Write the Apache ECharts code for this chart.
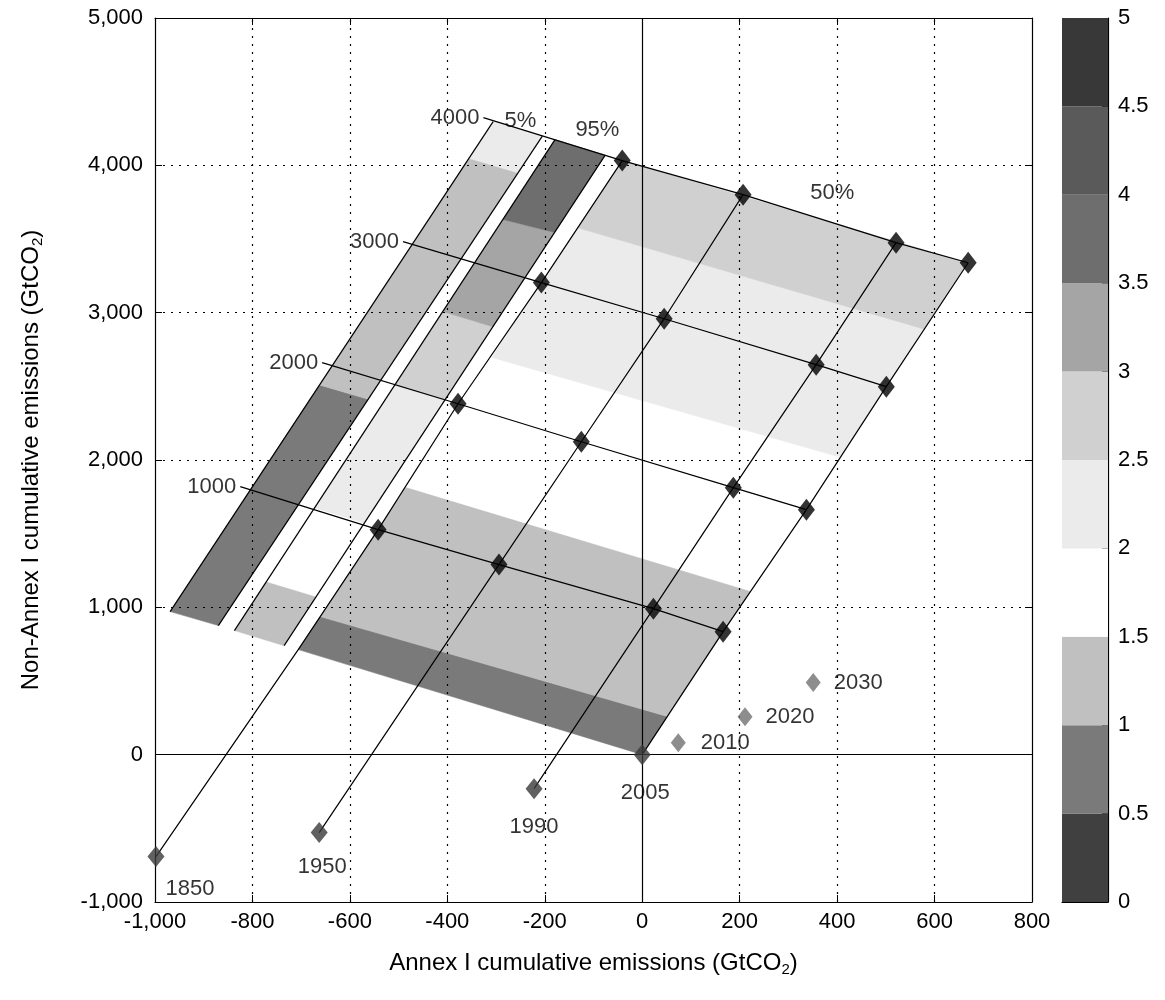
<!DOCTYPE html>
<html>
<head>
<meta charset="utf-8">
<script src="https://cdn.jsdelivr.net/npm/echarts@6/dist/echarts.min.js"></script>
<style>html,body{margin:0;background:#fff}#main{width:1165px;height:1000px}</style>
</head>
<body>
<div id="main"></div>
<script>
// colour classes of the colour bar (0-0.5, 0.5-1, ... 4.5-5)
var classColors = ['#404040','#7a7a7a','#c0c0c0','#ffffff','#ebebeb','#d0d0d0','#a5a5a5','#6e6e6e','#5a5a5a','#383838'];
var colorTicks = [0,0.5,1,1.5,2,2.5,3,3.5,4,4.5,5];

// strip edges: [bottomX, bottomY, topX, topY] (row level 0 -> 4)
var edge5L = [-969, 971, -306, 4297];
var edge5R = [-870, 876, -205, 4198];
var edge95L = [-837, 842, -179, 4174];
var edge95R = [-735, 740, -76, 4069];
var edge50L = [-706, 713, -41, 4032];
var edge50R = [0, 0, 669, 3339];

// band boundaries (row level on left edge, right edge) and colour classes
var bounds5 = [[0,0],[1.85,1.85],[3.7,3.7],[4,4]];
var class5 = [1,2,4];
var bounds95 = [[0,0],[0.4,0.4],[1,1],[2,2],[2.6,2.6],[3.35,3.37],[4,4]];
var class95 = [2,3,4,5,6,7];
var bounds50 = [[0,0],[0.27,0.31],[1.33,1.33],[2.39,2.42],[3.45,3.46],[4,4]];
var class50 = [1,2,3,4,5];

// grid points (diamonds), rows 1000..4000, columns 1850,1950,1990,2005
var rowLabels = ['1000','2000','3000','4000'];
var rowStart = [[-825,1819],[-657,2661],[-491,3482],[-326,4324]];
var col1850 = [[-542,1527],[-378,2382],[-207,3204],[-41,4032]];
var col1950 = [[-294,1290],[-125,2124],[45,2959],[207,3801]];
var col1990 = [[23,991],[187,1812],[357,2647],[521,3475]];
var col2005 = [[166,835],[337,1663],[501,2498],[669,3339]];

// year points
var years = ['1850','1950','1990','2005','2010','2020','2030'];
var yearX = [-998,-663,-222,0,74,211,351];
var yearY = [-692,-529,-231,0,81,258,489];

var pctLabels = ['5%','95%','50%'];
var pctPos = [[-250,4300],[-92,4240],[390,3815]];

function pt(e, t) {
    return [e[0] + (e[2]-e[0])*t/4, e[1] + (e[3]-e[1])*t/4];
}
var polys = [];
function addRegion(eL, eR, bounds, cls) {
    for (var i = 0; i < cls.length; i++) {
        polys.push({pts:[pt(eL,bounds[i][0]), pt(eL,bounds[i+1][0]), pt(eR,bounds[i+1][1]), pt(eR,bounds[i][1])], c: classColors[cls[i]]});
    }
}
addRegion(edge5L, edge5R, bounds5, class5);
addRegion(edge95L, edge95R, bounds95, class95);
addRegion(edge50L, edge50R, bounds50, class50);

var font = 'Liberation Sans';
var txt = {color:'#000', fontSize:22, fontFamily:font};
var lineStyle = {color:'#000', width:1.2};
function lineSeries(data) {
    return {type:'line', data:data, symbol:'none', lineStyle:lineStyle, z:5, silent:true};
}

var series = [];
// shaded polygons
series.push({
    type:'custom', z:1, silent:true,
    data: polys.map(function (p, i) { return [i]; }),
    renderItem: function (params, api) {
        var p = polys[params.dataIndex];
        return {type:'polygon', shape:{points:p.pts.map(function (q) { return api.coord(q); })},
            style:{fill:p.c, stroke:p.c, lineWidth:0.5}};
    }
});
// dotted grid over the shading, plus the zero lines
var gx = [-800,-600,-400,-200,200,400,600], gy = [1000,2000,3000,4000];
var mk = [];
gx.forEach(function (v) { mk.push({xAxis:v, lineStyle:{type:[2,6], color:'#000', width:1.2}}); });
gy.forEach(function (v) { mk.push({yAxis:v, lineStyle:{type:[2,6], color:'#000', width:1.2}}); });
mk.push({xAxis:0, lineStyle:{type:'solid', color:'#000', width:1.2}});
mk.push({yAxis:0, lineStyle:{type:'solid', color:'#000', width:1.2}});
series.push({type:'line', data:[], z:3, markLine:{silent:true, symbol:'none', label:{show:false}, data:mk}});

// row lines
for (var r = 0; r < 4; r++) {
    series.push(lineSeries([rowStart[r], col1850[r], col1950[r], col1990[r], col2005[r]]));
}
// column lines
series.push(lineSeries([[yearX[0],yearY[0]], [edge50L[0],edge50L[1]]].concat(col1850)));
series.push(lineSeries([[yearX[1],yearY[1]]].concat(col1950)));
series.push(lineSeries([[yearX[2],yearY[2]]].concat(col1990)));
series.push(lineSeries([[yearX[3],yearY[3]]].concat(col2005)));
[edge5L, edge5R, edge95L, edge95R].forEach(function (e) {
    series.push(lineSeries([[e[0],e[1]],[e[2],e[3]]]));
});

// diamonds
series.push({type:'scatter', z:8, symbol:'diamond', symbolSize:[17,22], itemStyle:{color:'#000'},
    data: col1850.concat(col1950, col1990, col2005)});
// year points
var yLabelPos = [['bottom',[34,6]],['bottom',[3,8]],['bottom',[0,12]],['bottom',[3,12]],['right',[10,0]],['right',[8,0]],['right',[8,0]]];
series.push({type:'scatter', z:8, symbol:'diamond',
    data: years.map(function (y, i) {
        var late = i > 3;
        return {value:[yearX[i], yearY[i]], name:y,
            symbolSize: late ? [15,19] : [17,21],
            itemStyle:{color: late ? '#707070' : '#3a3a3a'},
            label:{show:true, position:yLabelPos[i][0], offset:yLabelPos[i][1], formatter:y}};
    }),
    label: txt
});
// row labels
series.push({type:'scatter', z:8, symbolSize:0,
    data: rowStart.map(function (p, i) { return {value:p, label:{formatter:rowLabels[i]}}; }),
    label: Object.assign({show:true, position:'left', distance:4}, txt)});
// percentile labels
series.push({type:'scatter', z:8, symbolSize:0,
    data: pctPos.map(function (p, i) { return {value:p, label:{formatter:pctLabels[i]}}; }),
    label: Object.assign({show:true, position:'inside'}, txt)});

// colour bar
classColors.forEach(function (c) {
    series.push({type:'bar', xAxisIndex:2, yAxisIndex:2, stack:'cb', data:[0.5], barWidth:'100%',
        itemStyle:{color:c}, silent:true});
});

var option = {
    animation:false,
    backgroundColor:'#fff',
    grid:[
        {left:155, right:133, top:18, bottom:98},
        {left:155, right:133, top:18, bottom:98},
        {left:1062, width:46, top:18, bottom:98}
    ],
    xAxis:[
        {type:'value', gridIndex:0, min:-1000, max:800, interval:200,
            name:'Annex I cumulative emissions (GtCO{s|2})', nameLocation:'middle', nameGap:48,
            nameTextStyle:{color:'#000', fontSize:24, fontFamily:font, rich:{s:{fontSize:15, padding:[12,0,0,0], fontFamily:font}}},
            axisLine:{onZero:false, lineStyle:{color:'#000', width:1.2}},
            axisTick:{inside:true, length:7, lineStyle:{color:'#000'}},
            axisLabel:Object.assign({margin:9}, txt), splitLine:{show:false}},
        {type:'value', gridIndex:1, position:'top', min:-1000, max:800, interval:200,
            axisLine:{onZero:false, lineStyle:{color:'#000', width:1.2}},
            axisTick:{inside:true, length:7, lineStyle:{color:'#000'}},
            axisLabel:{show:false}, splitLine:{show:false}},
        {type:'category', gridIndex:2, data:['c'],
            axisLine:{lineStyle:{color:'#000', width:1.2}}, axisTick:{show:false}, axisLabel:{show:false}}
    ],
    yAxis:[
        {type:'value', gridIndex:0, min:-1000, max:5000, interval:1000,
            name:'Non-Annex I cumulative emissions (GtCO{s|2})', nameLocation:'middle', nameGap:110, nameRotate:90,
            nameTextStyle:{color:'#000', fontSize:24, fontFamily:font, rich:{s:{fontSize:15, padding:[12,0,0,0], fontFamily:font}}},
            axisLine:{show:true, onZero:false, lineStyle:{color:'#000', width:1.2}},
            axisTick:{show:true, inside:true, length:7, lineStyle:{color:'#000'}},
            axisLabel:Object.assign({margin:12}, txt), splitLine:{show:false}},
        {type:'value', gridIndex:1, position:'right', min:-1000, max:5000, interval:1000,
            axisLine:{show:true, onZero:false, lineStyle:{color:'#000', width:1.2}},
            axisTick:{show:true, inside:true, length:7, lineStyle:{color:'#000'}},
            axisLabel:{show:false}, splitLine:{show:false}},
        {type:'value', gridIndex:2, position:'right', min:0, max:5, interval:0.5,
            axisLine:{show:true, lineStyle:{color:'#000', width:1.2}},
            axisTick:{show:true, inside:true, length:6, lineStyle:{color:'#000'}},
            axisLabel:Object.assign({margin:10, formatter:function (v) { return String(v); }}, txt),
            splitLine:{show:false}}
    ],
    series:series
};
var chart = echarts.init(document.getElementById('main'));
chart.setOption(option);
</script>
</body>
</html>
